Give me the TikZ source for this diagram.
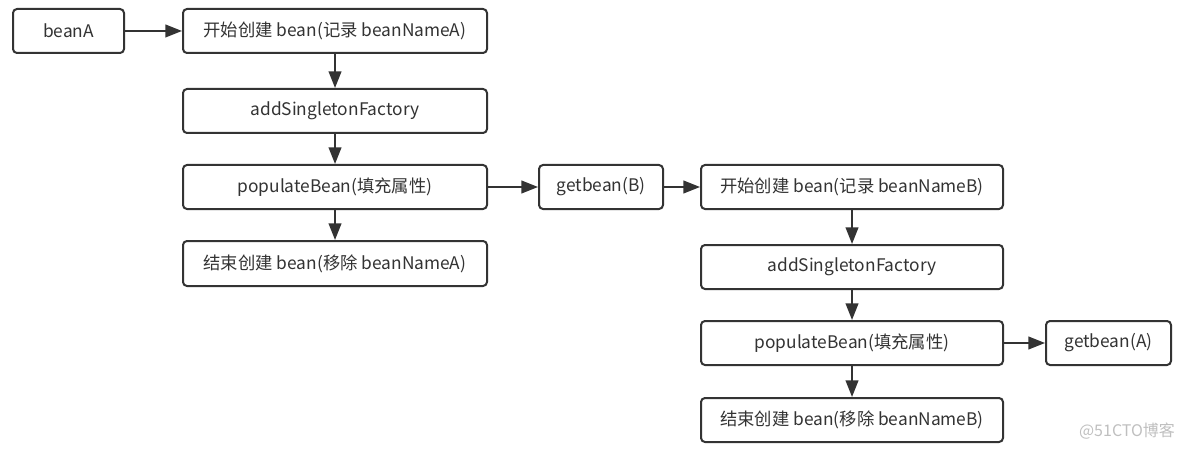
\documentclass[tikz,border=0pt]{standalone}
\usepackage{fontspec}
\setmainfont{Noto Sans CJK SC}
\usetikzlibrary{arrows.meta}
\definecolor{ln}{HTML}{333333}
\definecolor{tx}{HTML}{333333}
\begin{document}
\begin{tikzpicture}[x=0.75pt,y=-0.75pt,
  box/.style={draw=ln,line width=1.5pt,rounded corners=3pt,fill=white,text=tx,font=\fontsize{13pt}{15pt}\selectfont,inner sep=0pt,anchor=north west},
  arr/.style={draw=ln,line width=1.5pt,-{Triangle[length=12.5pt,width=9.5pt]}}]
\useasboundingbox (0,0) rectangle (1184,449);
\node[box,minimum width=111*0.75pt,minimum height=44*0.75pt] (beanA) at (12,8) {beanA};
\node[box,minimum width=304*0.75pt,minimum height=44*0.75pt] (a1) at (182,8) {开始创建 bean(记录 beanNameA)};
\node[box,minimum width=304*0.75pt,minimum height=44*0.75pt] (a2) at (182,88) {addSingletonFactory};
\node[box,minimum width=304*0.75pt,minimum height=44*0.75pt] (a3) at (182,164) {populateBean(填充属性)};
\node[box,minimum width=304*0.75pt,minimum height=45*0.75pt] (a4) at (182,240) {结束创建 bean(移除 beanNameA)};
\node[box,minimum width=124*0.75pt,minimum height=44*0.75pt] (gb) at (538,164) {getbean(B)};
\node[box,minimum width=302*0.75pt,minimum height=44*0.75pt] (b1) at (700,164) {开始创建 bean(记录 beanNameB)};
\node[box,minimum width=302*0.75pt,minimum height=44*0.75pt] (b2) at (700,244) {addSingletonFactory};
\node[box,minimum width=302*0.75pt,minimum height=44*0.75pt] (b3) at (700,320) {populateBean(填充属性)};
\node[box,minimum width=302*0.75pt,minimum height=44*0.75pt] (b4) at (700,397) {结束创建 bean(移除 beanNameB)};
\node[box,minimum width=125*0.75pt,minimum height=44*0.75pt] (ga) at (1045,320) {getbean(A)};
\node[text=black!25,font=\fontsize{12pt}{14pt}\selectfont,inner sep=0pt] (wm) at (1127,431) {@51CTO博客};
\draw[arr] (beanA) -- (a1);
\draw[arr] (a1) -- (a2);
\draw[arr] (a2) -- (a3);
\draw[arr] (a3) -- (a4);
\draw[arr] (a3) -- (gb);
\draw[arr] (gb) -- (b1);
\draw[arr] (b1) -- (b2);
\draw[arr] (b2) -- (b3);
\draw[arr] (b3) -- (b4);
\draw[arr] (b3) -- (ga);
\end{tikzpicture}
\end{document}
